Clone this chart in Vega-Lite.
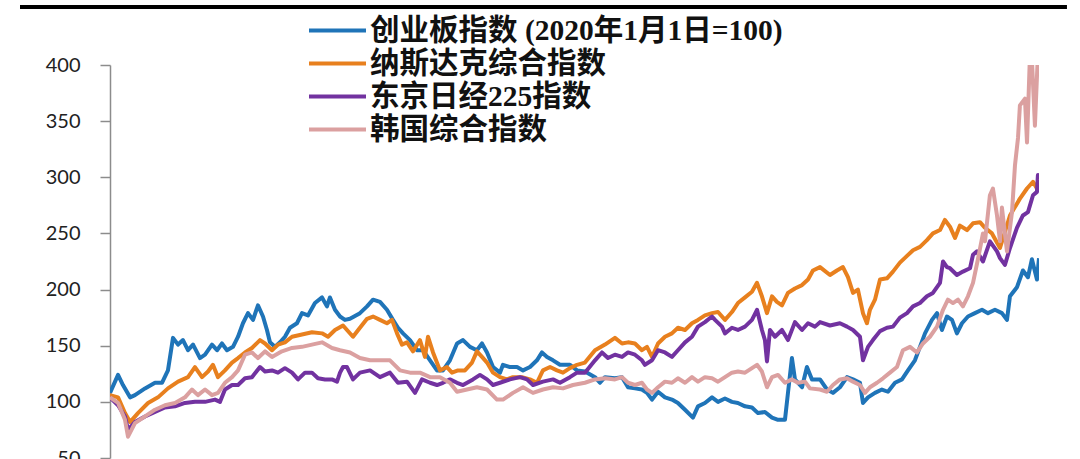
{
  "$schema": "https://vega.github.io/schema/vega-lite/v6.json",
  "width": 929,
  "height": 393,
  "autosize": {"type": "none"},
  "padding": {"left": 110, "top": 65, "right": 41, "bottom": 1},
  "background": "#ffffff",
  "datasets": {
    "names": [
      {"k": "cy", "name": "创业板指数 (2020年1月1日=100)"},
      {"k": "nq", "name": "纳斯达克综合指数"},
      {"k": "nk", "name": "东京日经225指数"},
      {"k": "ks", "name": "韩国综合指数"}
    ],
    "idx": [
      {"k":"cy","m":0,"v":108},{"k":"cy","m":0.67,"v":124},{"k":"cy","m":1.08,"v":115},{"k":"cy","m":1.67,"v":104},{"k":"cy","m":2.08,"v":106},{"k":"cy","m":2.92,"v":112},{"k":"cy","m":3.75,"v":117},{"k":"cy","m":4.33,"v":117},{"k":"cy","m":4.83,"v":128},{"k":"cy","m":5.25,"v":157},{"k":"cy","m":5.67,"v":151},{"k":"cy","m":6.08,"v":155},{"k":"cy","m":6.5,"v":146},{"k":"cy","m":6.92,"v":151},{"k":"cy","m":7.5,"v":139},{"k":"cy","m":7.92,"v":142},{"k":"cy","m":8.5,"v":151},{"k":"cy","m":8.92,"v":146},{"k":"cy","m":9.33,"v":152},{"k":"cy","m":9.75,"v":146},{"k":"cy","m":10.25,"v":149},{"k":"cy","m":10.67,"v":158},{"k":"cy","m":11.08,"v":170},{"k":"cy","m":11.5,"v":179},{"k":"cy","m":11.92,"v":173},{"k":"cy","m":12.33,"v":186},{"k":"cy","m":12.75,"v":176},{"k":"cy","m":13.08,"v":164},{"k":"cy","m":13.33,"v":153},{"k":"cy","m":13.75,"v":149},{"k":"cy","m":14.17,"v":153},{"k":"cy","m":14.58,"v":158},{"k":"cy","m":15,"v":166},{"k":"cy","m":15.58,"v":170},{"k":"cy","m":16,"v":179},{"k":"cy","m":16.5,"v":177},{"k":"cy","m":17.08,"v":188},{"k":"cy","m":17.67,"v":193},{"k":"cy","m":18.08,"v":185},{"k":"cy","m":18.33,"v":193},{"k":"cy","m":18.75,"v":182},{"k":"cy","m":19.17,"v":176},{"k":"cy","m":19.58,"v":173},{"k":"cy","m":20,"v":174},{"k":"cy","m":20.83,"v":179},{"k":"cy","m":21.42,"v":185},{"k":"cy","m":21.92,"v":191},{"k":"cy","m":22.5,"v":189},{"k":"cy","m":23.08,"v":182},{"k":"cy","m":23.58,"v":173},{"k":"cy","m":24,"v":166},{"k":"cy","m":24.42,"v":161},{"k":"cy","m":25,"v":155},{"k":"cy","m":25.58,"v":146},{"k":"cy","m":26.08,"v":146},{"k":"cy","m":26.67,"v":137},{"k":"cy","m":27.25,"v":128},{"k":"cy","m":27.75,"v":128},{"k":"cy","m":28.33,"v":137},{"k":"cy","m":28.92,"v":152},{"k":"cy","m":29.42,"v":155},{"k":"cy","m":30,"v":149},{"k":"cy","m":30.58,"v":146},{"k":"cy","m":31,"v":152},{"k":"cy","m":31.42,"v":144},{"k":"cy","m":31.92,"v":131},{"k":"cy","m":32.5,"v":126},{"k":"cy","m":32.75,"v":133},{"k":"cy","m":33.33,"v":131},{"k":"cy","m":33.92,"v":131},{"k":"cy","m":34.42,"v":128},{"k":"cy","m":35,"v":131},{"k":"cy","m":35.58,"v":137},{"k":"cy","m":36,"v":144},{"k":"cy","m":36.42,"v":140},{"k":"cy","m":36.92,"v":137},{"k":"cy","m":37.5,"v":133},{"k":"cy","m":38.33,"v":133},{"k":"cy","m":38.92,"v":128},{"k":"cy","m":39.58,"v":127},{"k":"cy","m":40.42,"v":122},{"k":"cy","m":40.83,"v":117},{"k":"cy","m":41.25,"v":122},{"k":"cy","m":42.08,"v":121},{"k":"cy","m":42.67,"v":122},{"k":"cy","m":43.17,"v":113},{"k":"cy","m":43.75,"v":112},{"k":"cy","m":44.33,"v":111},{"k":"cy","m":44.75,"v":108},{"k":"cy","m":45.17,"v":102},{"k":"cy","m":45.67,"v":109},{"k":"cy","m":46.25,"v":104},{"k":"cy","m":46.83,"v":102},{"k":"cy","m":47.33,"v":99},{"k":"cy","m":47.92,"v":93},{"k":"cy","m":48.58,"v":86},{"k":"cy","m":49,"v":96},{"k":"cy","m":49.58,"v":99},{"k":"cy","m":50.17,"v":104},{"k":"cy","m":50.67,"v":100},{"k":"cy","m":51.25,"v":103},{"k":"cy","m":51.83,"v":100},{"k":"cy","m":52.33,"v":99},{"k":"cy","m":52.92,"v":96},{"k":"cy","m":53.5,"v":95},{"k":"cy","m":54,"v":90},{"k":"cy","m":54.58,"v":91},{"k":"cy","m":55.17,"v":86},{"k":"cy","m":55.67,"v":84},{"k":"cy","m":56.25,"v":84},{"k":"cy","m":56.5,"v":108},{"k":"cy","m":56.83,"v":139},{"k":"cy","m":57.08,"v":120},{"k":"cy","m":57.67,"v":113},{"k":"cy","m":58.08,"v":131},{"k":"cy","m":58.5,"v":120},{"k":"cy","m":59.17,"v":120},{"k":"cy","m":59.75,"v":111},{"k":"cy","m":60.25,"v":108},{"k":"cy","m":60.83,"v":113},{"k":"cy","m":61.42,"v":122},{"k":"cy","m":61.92,"v":120},{"k":"cy","m":62.5,"v":117},{"k":"cy","m":62.75,"v":99},{"k":"cy","m":63.17,"v":104},{"k":"cy","m":63.75,"v":108},{"k":"cy","m":64.33,"v":111},{"k":"cy","m":64.83,"v":109},{"k":"cy","m":65.42,"v":117},{"k":"cy","m":66,"v":120},{"k":"cy","m":66.5,"v":128},{"k":"cy","m":67.08,"v":137},{"k":"cy","m":67.5,"v":149},{"k":"cy","m":67.92,"v":161},{"k":"cy","m":68.5,"v":173},{"k":"cy","m":68.92,"v":179},{"k":"cy","m":69.33,"v":164},{"k":"cy","m":69.75,"v":176},{"k":"cy","m":70.17,"v":173},{"k":"cy","m":70.58,"v":161},{"k":"cy","m":71,"v":170},{"k":"cy","m":71.5,"v":176},{"k":"cy","m":72.08,"v":179},{"k":"cy","m":72.67,"v":182},{"k":"cy","m":73.17,"v":179},{"k":"cy","m":73.75,"v":182},{"k":"cy","m":74.33,"v":179},{"k":"cy","m":74.75,"v":173},{"k":"cy","m":75,"v":194},{"k":"cy","m":75.58,"v":202},{"k":"cy","m":76.08,"v":217},{"k":"cy","m":76.5,"v":211},{"k":"cy","m":76.83,"v":227},{"k":"cy","m":77.25,"v":209},{"k":"cy","m":77.42,"v":228},

      {"k":"nq","m":0,"v":106},{"k":"nq","m":0.67,"v":104},{"k":"nq","m":1.25,"v":90},{"k":"nq","m":1.67,"v":82},{"k":"nq","m":2.33,"v":90},{"k":"nq","m":3.17,"v":99},{"k":"nq","m":4,"v":104},{"k":"nq","m":4.83,"v":112},{"k":"nq","m":5.67,"v":118},{"k":"nq","m":6.5,"v":122},{"k":"nq","m":7.08,"v":131},{"k":"nq","m":7.67,"v":122},{"k":"nq","m":8.17,"v":127},{"k":"nq","m":8.58,"v":133},{"k":"nq","m":9,"v":122},{"k":"nq","m":9.58,"v":128},{"k":"nq","m":10.17,"v":135},{"k":"nq","m":10.67,"v":139},{"k":"nq","m":11.25,"v":144},{"k":"nq","m":11.83,"v":148},{"k":"nq","m":12.5,"v":155},{"k":"nq","m":12.92,"v":152},{"k":"nq","m":13.5,"v":146},{"k":"nq","m":14,"v":151},{"k":"nq","m":14.58,"v":153},{"k":"nq","m":15.17,"v":158},{"k":"nq","m":16,"v":160},{"k":"nq","m":16.83,"v":162},{"k":"nq","m":17.67,"v":161},{"k":"nq","m":18.17,"v":158},{"k":"nq","m":18.75,"v":164},{"k":"nq","m":19.42,"v":168},{"k":"nq","m":19.75,"v":164},{"k":"nq","m":20.25,"v":158},{"k":"nq","m":20.83,"v":166},{"k":"nq","m":21.42,"v":174},{"k":"nq","m":21.92,"v":176},{"k":"nq","m":22.5,"v":173},{"k":"nq","m":23.08,"v":170},{"k":"nq","m":23.5,"v":173},{"k":"nq","m":23.92,"v":161},{"k":"nq","m":24.33,"v":151},{"k":"nq","m":24.75,"v":153},{"k":"nq","m":25.25,"v":145},{"k":"nq","m":25.83,"v":155},{"k":"nq","m":26.25,"v":140},{"k":"nq","m":26.5,"v":158},{"k":"nq","m":26.92,"v":144},{"k":"nq","m":27.5,"v":128},{"k":"nq","m":28.08,"v":131},{"k":"nq","m":28.5,"v":126},{"k":"nq","m":29,"v":128},{"k":"nq","m":29.58,"v":128},{"k":"nq","m":30.17,"v":135},{"k":"nq","m":30.58,"v":145},{"k":"nq","m":31,"v":140},{"k":"nq","m":31.42,"v":135},{"k":"nq","m":31.92,"v":126},{"k":"nq","m":32.5,"v":122},{"k":"nq","m":33.08,"v":120},{"k":"nq","m":33.58,"v":122},{"k":"nq","m":34.33,"v":122},{"k":"nq","m":35,"v":120},{"k":"nq","m":35.58,"v":117},{"k":"nq","m":36.08,"v":128},{"k":"nq","m":36.67,"v":131},{"k":"nq","m":37.25,"v":128},{"k":"nq","m":37.75,"v":126},{"k":"nq","m":38.33,"v":130},{"k":"nq","m":38.92,"v":133},{"k":"nq","m":39.58,"v":135},{"k":"nq","m":40.42,"v":146},{"k":"nq","m":41.25,"v":151},{"k":"nq","m":42.08,"v":157},{"k":"nq","m":42.67,"v":152},{"k":"nq","m":43.17,"v":153},{"k":"nq","m":43.75,"v":152},{"k":"nq","m":44.33,"v":146},{"k":"nq","m":44.75,"v":149},{"k":"nq","m":45.17,"v":140},{"k":"nq","m":45.67,"v":152},{"k":"nq","m":46.25,"v":158},{"k":"nq","m":46.83,"v":161},{"k":"nq","m":47.33,"v":166},{"k":"nq","m":47.92,"v":164},{"k":"nq","m":48.5,"v":170},{"k":"nq","m":49,"v":173},{"k":"nq","m":49.58,"v":177},{"k":"nq","m":50.17,"v":179},{"k":"nq","m":50.67,"v":180},{"k":"nq","m":51.25,"v":173},{"k":"nq","m":51.83,"v":180},{"k":"nq","m":52.33,"v":188},{"k":"nq","m":52.92,"v":193},{"k":"nq","m":53.5,"v":198},{"k":"nq","m":53.92,"v":206},{"k":"nq","m":54.33,"v":194},{"k":"nq","m":54.75,"v":179},{"k":"nq","m":55.17,"v":194},{"k":"nq","m":55.58,"v":189},{"k":"nq","m":56,"v":186},{"k":"nq","m":56.5,"v":197},{"k":"nq","m":57.08,"v":201},{"k":"nq","m":57.67,"v":204},{"k":"nq","m":58.17,"v":209},{"k":"nq","m":58.58,"v":217},{"k":"nq","m":59.17,"v":220},{"k":"nq","m":60,"v":213},{"k":"nq","m":60.58,"v":217},{"k":"nq","m":61.08,"v":220},{"k":"nq","m":61.5,"v":211},{"k":"nq","m":61.92,"v":197},{"k":"nq","m":62.33,"v":200},{"k":"nq","m":62.75,"v":179},{"k":"nq","m":63.08,"v":170},{"k":"nq","m":63.33,"v":182},{"k":"nq","m":63.75,"v":191},{"k":"nq","m":64.17,"v":209},{"k":"nq","m":64.75,"v":210},{"k":"nq","m":65.25,"v":216},{"k":"nq","m":65.83,"v":224},{"k":"nq","m":66.42,"v":230},{"k":"nq","m":66.92,"v":235},{"k":"nq","m":67.5,"v":238},{"k":"nq","m":68.08,"v":244},{"k":"nq","m":68.58,"v":250},{"k":"nq","m":69.17,"v":253},{"k":"nq","m":69.58,"v":262},{"k":"nq","m":70,"v":256},{"k":"nq","m":70.42,"v":246},{"k":"nq","m":70.83,"v":257},{"k":"nq","m":71.42,"v":253},{"k":"nq","m":71.92,"v":259},{"k":"nq","m":72.5,"v":260},{"k":"nq","m":72.92,"v":255},{"k":"nq","m":73.5,"v":250},{"k":"nq","m":74.17,"v":237},{"k":"nq","m":75,"v":266},{"k":"nq","m":75.83,"v":281},{"k":"nq","m":76.42,"v":290},{"k":"nq","m":76.92,"v":296},{"k":"nq","m":77.25,"v":290},{"k":"nq","m":77.42,"v":298},

      {"k":"nk","m":0,"v":104},{"k":"nk","m":0.67,"v":97},{"k":"nk","m":1.25,"v":87},{"k":"nk","m":1.5,"v":75},{"k":"nk","m":2.08,"v":82},{"k":"nk","m":2.92,"v":87},{"k":"nk","m":3.75,"v":91},{"k":"nk","m":4.58,"v":95},{"k":"nk","m":5.42,"v":96},{"k":"nk","m":6.25,"v":99},{"k":"nk","m":7.08,"v":100},{"k":"nk","m":7.92,"v":100},{"k":"nk","m":8.75,"v":102},{"k":"nk","m":9.17,"v":100},{"k":"nk","m":9.58,"v":111},{"k":"nk","m":10.17,"v":115},{"k":"nk","m":10.67,"v":115},{"k":"nk","m":11.25,"v":121},{"k":"nk","m":11.83,"v":122},{"k":"nk","m":12.5,"v":131},{"k":"nk","m":12.92,"v":127},{"k":"nk","m":13.5,"v":128},{"k":"nk","m":14,"v":126},{"k":"nk","m":14.58,"v":130},{"k":"nk","m":15.17,"v":126},{"k":"nk","m":15.67,"v":120},{"k":"nk","m":16.25,"v":126},{"k":"nk","m":16.83,"v":126},{"k":"nk","m":17.33,"v":121},{"k":"nk","m":17.92,"v":120},{"k":"nk","m":18.5,"v":120},{"k":"nk","m":18.92,"v":118},{"k":"nk","m":19.17,"v":126},{"k":"nk","m":19.42,"v":131},{"k":"nk","m":19.75,"v":131},{"k":"nk","m":20.25,"v":120},{"k":"nk","m":20.83,"v":126},{"k":"nk","m":21.67,"v":128},{"k":"nk","m":22.5,"v":122},{"k":"nk","m":23.33,"v":126},{"k":"nk","m":24,"v":117},{"k":"nk","m":24.75,"v":118},{"k":"nk","m":25.42,"v":108},{"k":"nk","m":26,"v":120},{"k":"nk","m":26.67,"v":117},{"k":"nk","m":27.25,"v":115},{"k":"nk","m":27.75,"v":117},{"k":"nk","m":28.33,"v":120},{"k":"nk","m":28.92,"v":117},{"k":"nk","m":29.42,"v":115},{"k":"nk","m":30.25,"v":120},{"k":"nk","m":30.83,"v":124},{"k":"nk","m":31.42,"v":120},{"k":"nk","m":31.92,"v":115},{"k":"nk","m":32.5,"v":117},{"k":"nk","m":33.33,"v":120},{"k":"nk","m":34.17,"v":122},{"k":"nk","m":34.75,"v":120},{"k":"nk","m":35.25,"v":115},{"k":"nk","m":36.08,"v":118},{"k":"nk","m":36.92,"v":120},{"k":"nk","m":37.5,"v":117},{"k":"nk","m":38.33,"v":122},{"k":"nk","m":38.92,"v":126},{"k":"nk","m":39.58,"v":126},{"k":"nk","m":40.42,"v":137},{"k":"nk","m":41,"v":144},{"k":"nk","m":41.5,"v":139},{"k":"nk","m":42.08,"v":142},{"k":"nk","m":42.67,"v":140},{"k":"nk","m":43.17,"v":144},{"k":"nk","m":43.75,"v":142},{"k":"nk","m":44.33,"v":137},{"k":"nk","m":44.58,"v":133},{"k":"nk","m":45.17,"v":137},{"k":"nk","m":45.67,"v":146},{"k":"nk","m":46.25,"v":144},{"k":"nk","m":46.83,"v":140},{"k":"nk","m":47.33,"v":146},{"k":"nk","m":47.92,"v":153},{"k":"nk","m":48.5,"v":158},{"k":"nk","m":49,"v":167},{"k":"nk","m":49.58,"v":171},{"k":"nk","m":50.17,"v":176},{"k":"nk","m":50.42,"v":173},{"k":"nk","m":51,"v":167},{"k":"nk","m":51.25,"v":161},{"k":"nk","m":51.83,"v":166},{"k":"nk","m":52.33,"v":164},{"k":"nk","m":52.92,"v":167},{"k":"nk","m":53.5,"v":173},{"k":"nk","m":53.92,"v":182},{"k":"nk","m":54.33,"v":164},{"k":"nk","m":54.58,"v":155},{"k":"nk","m":54.75,"v":136},{"k":"nk","m":55,"v":164},{"k":"nk","m":55.42,"v":158},{"k":"nk","m":56,"v":164},{"k":"nk","m":56.5,"v":155},{"k":"nk","m":57.08,"v":171},{"k":"nk","m":57.67,"v":164},{"k":"nk","m":58.17,"v":170},{"k":"nk","m":58.75,"v":167},{"k":"nk","m":59.17,"v":171},{"k":"nk","m":60,"v":168},{"k":"nk","m":60.83,"v":170},{"k":"nk","m":61.42,"v":167},{"k":"nk","m":61.92,"v":164},{"k":"nk","m":62.5,"v":158},{"k":"nk","m":62.75,"v":137},{"k":"nk","m":63.17,"v":149},{"k":"nk","m":63.58,"v":155},{"k":"nk","m":64.17,"v":163},{"k":"nk","m":64.75,"v":166},{"k":"nk","m":65.25,"v":167},{"k":"nk","m":65.83,"v":175},{"k":"nk","m":66.42,"v":179},{"k":"nk","m":66.92,"v":185},{"k":"nk","m":67.5,"v":188},{"k":"nk","m":68.08,"v":194},{"k":"nk","m":68.58,"v":197},{"k":"nk","m":69.17,"v":206},{"k":"nk","m":69.42,"v":225},{"k":"nk","m":69.75,"v":220},{"k":"nk","m":70,"v":219},{"k":"nk","m":70.58,"v":213},{"k":"nk","m":71.08,"v":216},{"k":"nk","m":71.67,"v":219},{"k":"nk","m":71.92,"v":231},{"k":"nk","m":72.25,"v":234},{"k":"nk","m":72.75,"v":225},{"k":"nk","m":73.33,"v":243},{"k":"nk","m":73.92,"v":234},{"k":"nk","m":74.17,"v":228},{"k":"nk","m":74.58,"v":222},{"k":"nk","m":75,"v":237},{"k":"nk","m":75.58,"v":255},{"k":"nk","m":76.08,"v":266},{"k":"nk","m":76.5,"v":269},{"k":"nk","m":76.92,"v":284},{"k":"nk","m":77.25,"v":287},{"k":"nk","m":77.33,"v":302},{"k":"nk","m":77.42,"v":298},

      {"k":"ks","m":0,"v":104},{"k":"ks","m":0.67,"v":99},{"k":"ks","m":1.25,"v":84},{"k":"ks","m":1.5,"v":69},{"k":"ks","m":2.08,"v":81},{"k":"ks","m":2.92,"v":87},{"k":"ks","m":3.75,"v":93},{"k":"ks","m":4.58,"v":97},{"k":"ks","m":5.42,"v":99},{"k":"ks","m":6.25,"v":104},{"k":"ks","m":6.83,"v":111},{"k":"ks","m":7.33,"v":106},{"k":"ks","m":7.92,"v":111},{"k":"ks","m":8.5,"v":106},{"k":"ks","m":9,"v":108},{"k":"ks","m":9.58,"v":117},{"k":"ks","m":10.17,"v":122},{"k":"ks","m":10.67,"v":128},{"k":"ks","m":11.25,"v":142},{"k":"ks","m":11.83,"v":144},{"k":"ks","m":12.33,"v":139},{"k":"ks","m":12.92,"v":145},{"k":"ks","m":13.5,"v":140},{"k":"ks","m":14.33,"v":145},{"k":"ks","m":15.17,"v":148},{"k":"ks","m":16,"v":149},{"k":"ks","m":16.83,"v":151},{"k":"ks","m":17.67,"v":153},{"k":"ks","m":18.5,"v":148},{"k":"ks","m":19.17,"v":146},{"k":"ks","m":20,"v":144},{"k":"ks","m":20.83,"v":139},{"k":"ks","m":21.67,"v":137},{"k":"ks","m":22.5,"v":137},{"k":"ks","m":23.33,"v":137},{"k":"ks","m":24.17,"v":128},{"k":"ks","m":25,"v":126},{"k":"ks","m":25.83,"v":126},{"k":"ks","m":26.67,"v":122},{"k":"ks","m":27.5,"v":122},{"k":"ks","m":28.33,"v":117},{"k":"ks","m":28.92,"v":109},{"k":"ks","m":29.75,"v":111},{"k":"ks","m":30.58,"v":113},{"k":"ks","m":31.42,"v":111},{"k":"ks","m":32.25,"v":102},{"k":"ks","m":32.75,"v":102},{"k":"ks","m":33.58,"v":108},{"k":"ks","m":34.42,"v":113},{"k":"ks","m":35.25,"v":108},{"k":"ks","m":36.08,"v":111},{"k":"ks","m":36.92,"v":113},{"k":"ks","m":37.75,"v":112},{"k":"ks","m":38.58,"v":115},{"k":"ks","m":39.58,"v":117},{"k":"ks","m":40.42,"v":120},{"k":"ks","m":41.25,"v":121},{"k":"ks","m":42.08,"v":120},{"k":"ks","m":42.67,"v":122},{"k":"ks","m":43.17,"v":117},{"k":"ks","m":43.75,"v":115},{"k":"ks","m":44.33,"v":117},{"k":"ks","m":44.75,"v":111},{"k":"ks","m":45.17,"v":108},{"k":"ks","m":45.67,"v":113},{"k":"ks","m":46.25,"v":118},{"k":"ks","m":46.83,"v":117},{"k":"ks","m":47.33,"v":121},{"k":"ks","m":47.92,"v":117},{"k":"ks","m":48.5,"v":122},{"k":"ks","m":49,"v":118},{"k":"ks","m":49.58,"v":122},{"k":"ks","m":50.17,"v":121},{"k":"ks","m":50.67,"v":118},{"k":"ks","m":51.25,"v":122},{"k":"ks","m":51.83,"v":126},{"k":"ks","m":52.33,"v":127},{"k":"ks","m":52.92,"v":126},{"k":"ks","m":53.5,"v":130},{"k":"ks","m":53.92,"v":133},{"k":"ks","m":54.33,"v":127},{"k":"ks","m":54.75,"v":113},{"k":"ks","m":55.17,"v":122},{"k":"ks","m":55.67,"v":124},{"k":"ks","m":56.25,"v":117},{"k":"ks","m":56.83,"v":120},{"k":"ks","m":57.33,"v":117},{"k":"ks","m":57.92,"v":118},{"k":"ks","m":58.33,"v":112},{"k":"ks","m":59.17,"v":111},{"k":"ks","m":59.75,"v":109},{"k":"ks","m":60.25,"v":115},{"k":"ks","m":60.83,"v":120},{"k":"ks","m":61.42,"v":121},{"k":"ks","m":61.92,"v":118},{"k":"ks","m":62.5,"v":115},{"k":"ks","m":62.92,"v":108},{"k":"ks","m":63.33,"v":113},{"k":"ks","m":63.92,"v":117},{"k":"ks","m":64.42,"v":121},{"k":"ks","m":65,"v":126},{"k":"ks","m":65.58,"v":131},{"k":"ks","m":66.08,"v":146},{"k":"ks","m":66.67,"v":149},{"k":"ks","m":67.25,"v":144},{"k":"ks","m":67.75,"v":152},{"k":"ks","m":68.33,"v":158},{"k":"ks","m":68.92,"v":167},{"k":"ks","m":69.42,"v":182},{"k":"ks","m":69.83,"v":191},{"k":"ks","m":70.25,"v":188},{"k":"ks","m":70.67,"v":191},{"k":"ks","m":71.08,"v":185},{"k":"ks","m":71.5,"v":194},{"k":"ks","m":71.92,"v":206},{"k":"ks","m":72.33,"v":227},{"k":"ks","m":72.75,"v":250},{"k":"ks","m":72.92,"v":243},{"k":"ks","m":73.33,"v":284},{"k":"ks","m":73.58,"v":290},{"k":"ks","m":73.92,"v":266},{"k":"ks","m":74.17,"v":243},{"k":"ks","m":74.33,"v":273},{"k":"ks","m":74.75,"v":234},{"k":"ks","m":75.17,"v":269},{"k":"ks","m":75.42,"v":311},{"k":"ks","m":75.67,"v":335},{"k":"ks","m":75.83,"v":364},{"k":"ks","m":76.25,"v":370},{"k":"ks","m":76.42,"v":331},{"k":"ks","m":76.67,"v":410},{"k":"ks","m":76.83,"v":405},{"k":"ks","m":77.08,"v":346},{"k":"ks","m":77.33,"v":410},{"k":"ks","m":77.42,"v":410}
    ]
  },
  "layer": [
    {
      "data": {"name": "idx"},
      "transform": [
        {"lookup": "k", "from": {"data": {"name": "names"}, "key": "k", "fields": ["name"]}}
      ],
      "mark": {"type": "line", "strokeWidth": 4, "clip": true, "strokeJoin": "round"},
      "encoding": {
        "x": {
          "field": "m",
          "type": "quantitative",
          "title": "月份 (2020年1月起)",
          "scale": {"domain": [0, 77.42], "nice": false},
          "axis": null
        },
        "y": {
          "field": "v",
          "type": "quantitative",
          "scale": {"domain": [50, 400], "nice": false, "zero": false},
          "axis": {
            "title": null,
            "values": [50, 100, 150, 200, 250, 300, 350, 400],
            "grid": false,
            "labelFont": "Lato",
            "labelFontSize": 20,
            "labelColor": "#222222",
            "labelPadding": 20,
            "tickSize": 10,
            "tickColor": "#8c8c8c",
            "tickWidth": 1.5,
            "domainColor": "#8c8c8c",
            "domainWidth": 1.5
          }
        },
        "color": {
          "field": "name",
          "type": "nominal",
          "scale": {
            "domain": ["创业板指数 (2020年1月1日=100)", "纳斯达克综合指数", "东京日经225指数", "韩国综合指数"],
            "range": ["#1f74b8", "#e8801e", "#7232a0", "#dba0a0"]
          },
          "legend": {
            "title": null,
            "orient": "none",
            "legendX": 197,
            "legendY": -51,
            "symbolType": "stroke",
            "symbolSize": 3249,
            "symbolStrokeWidth": 4,
            "clipHeight": 33,
            "rowPadding": 0,
            "padding": 0,
            "labelOffset": 2,
            "labelFont": "Liberation Serif, Noto Sans CJK SC",
            "labelFontWeight": "bold",
            "labelFontSize": 29.5,
            "labelColor": "#111111",
            "labelLimit": 700
          }
        }
      }
    },
    {
      "data": {"values": [{}]},
      "mark": {"type": "rule", "color": "#000000", "strokeWidth": 4, "clip": false},
      "encoding": {
        "x": {"datum": -7.5, "type": "quantitative"},
        "x2": {"datum": 79.75},
        "y": {"datum": 451.6, "type": "quantitative"}
      }
    }
  ],
  "config": {
    "view": {"stroke": null}
  }
}
